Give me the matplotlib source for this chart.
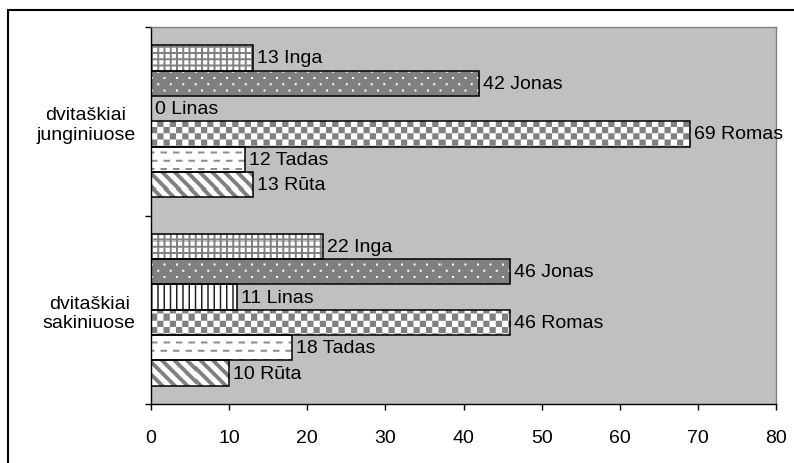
import numpy as np
import matplotlib
matplotlib.use("Agg")
import matplotlib.pyplot as plt
from matplotlib.patches import Rectangle

# Data
categories = ["dvitaškiai\nsakiniuose", "dvitaškiai\njunginiuose"]
students = ["Inga", "Jonas", "Linas", "Romas", "Tadas", "Rūta"]
sakiniuose = [22, 46, 11, 46, 18, 10]
junginiuose = [13, 42, 0, 69, 12, 13]
x_ticks = [0, 10, 20, 30, 40, 50, 60, 70, 80]

plt.rcParams['font.family'] = ['Liberation Sans', 'DejaVu Sans']
FS = 14

W, H, DPI = 794, 464, 100
fig = plt.figure(figsize=(W / DPI, H / DPI), dpi=DPI)
fig.patch.set_facecolor('white')

# outer chart frame (left/top edges visible)
fig.add_artist(Rectangle((8 / W, -0.5), 2.0, (H - 11) / H + 0.5,
                         transform=fig.transFigure, fill=False,
                         edgecolor='black', linewidth=1.5))

ax_l, ax_t, ax_r, ax_b = 151, 28, 776, 405
ax = fig.add_axes([ax_l / W, 1 - ax_b / H, (ax_r - ax_l) / W, (ax_b - ax_t) / H])
ax.set_facecolor('#c0c0c0')

XMAX = 80
YLIM = (-0.5, 1.5)
bar_h = 0.1345
n = len(students)
offsets = [(n - 1) / 2 - i for i in range(n)]

# pixel-based fill textures (supersampled then averaged)
pw, ph = ax_r - ax_l, ax_b - ax_t
SS = 4
yy, xx = np.mgrid[0:ph * SS, 0:pw * SS].astype(float)
xx = (xx + 0.5) / SS
yy = (yy + 0.5) / SS
P = 6.25


def down(a):
    return a.reshape(ph, SS, pw, SS).mean(axis=(1, 3))


def tex_grid():
    lines = ((xx % P) < 2.0) | ((yy % P) < 2.0)
    return down(np.where(lines, 0.5, 1.0))


def tex_dots():
    row = np.floor(yy / P)
    xo = xx + (row % 2) * P
    dot = ((xo % (2 * P)) < 2.0) & ((yy % P) < 2.0)
    return down(np.where(dot, 1.0, 0.5))


def tex_vlines():
    return down(np.where((xx % P) < 1.4, 0.12, 1.0))


def tex_checker():
    c = (np.floor(xx / P) + np.floor(yy / P)) % 2
    return down(np.where(c == 0, 0.5, 1.0))


def tex_dashes():
    rp = 8.3
    row = np.floor(yy / rp)
    xo = xx + (row % 2) * 3
    d = ((yy % rp) < 2.0) & ((xo % (2 * P)) < 6.5)
    return down(np.where(d, 0.55, 1.0))


def tex_diag():
    return down(np.where(((xx - yy) % (2 * P)) < 5.5, 0.5, 1.0))


textures = [tex_grid(), tex_dots(), tex_vlines(), tex_checker(), tex_dashes(), tex_diag()]

for gi, values in enumerate([sakiniuose, junginiuose]):
    for si, (name, v) in enumerate(zip(students, values)):
        y = gi + offsets[si] * bar_h
        bars = ax.barh(y, v, height=bar_h, left=0, facecolor='none',
                       edgecolor='black', linewidth=1.1, zorder=3)
        patch = bars.patches[0]
        im = ax.imshow(textures[si], extent=(0, XMAX, YLIM[0], YLIM[1]),
                       origin='upper', cmap='gray', vmin=0, vmax=1,
                       interpolation='nearest', aspect='auto', zorder=2)
        im.set_clip_path(patch)
        ax.annotate(f"{v} {name}", xy=(v, y), xytext=(4, 0),
                    textcoords='offset pixels', va='center', ha='left',
                    fontsize=FS, zorder=4)

ax.set_xlim(0, XMAX)
ax.set_ylim(*YLIM)
ax.set_aspect('auto')

ax.set_xticks(x_ticks)
ax.set_xticklabels([str(t) for t in x_ticks], fontsize=FS)
ax.tick_params(axis='x', direction='out', length=4, width=1, pad=14, color='black')

ax.set_yticks([0, 1])
ax.set_yticklabels(categories, fontsize=FS, ma='center')
ax.set_yticks([-0.5, 0.5, 1.5], minor=True)
ax.tick_params(axis='y', which='major', length=0, pad=11)
ax.tick_params(axis='y', which='minor', direction='out', length=4, width=1, color='black')

for side in ['left', 'bottom']:
    ax.spines[side].set_color('black')
    ax.spines[side].set_linewidth(1.0)
for side in ['top', 'right']:
    ax.spines[side].set_color('#808080')
    ax.spines[side].set_linewidth(1.0)

fig.savefig('out.png', dpi=DPI)
